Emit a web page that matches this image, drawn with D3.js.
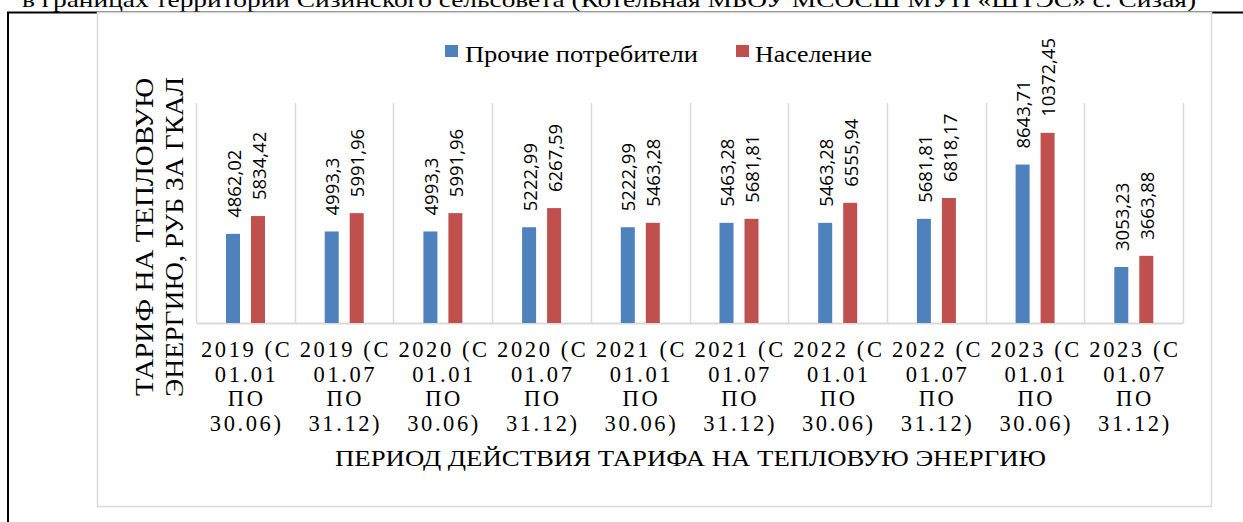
<!DOCTYPE html>
<html><head><meta charset="utf-8">
<script src="https://cdn.jsdelivr.net/npm/d3@7"></script>
<style>
html,body{margin:0;padding:0;background:#fff;}
svg{display:block;}
</style></head>
<body>
<svg id="c" width="1243" height="522"></svg>
<script>
const categories = [
  ["2019 (С","01.01","ПО","30.06)"],
  ["2019 (С","01.07","ПО","31.12)"],
  ["2020 (С","01.01","ПО","30.06)"],
  ["2020 (С","01.07","ПО","31.12)"],
  ["2021 (С","01.01","ПО","30.06)"],
  ["2021 (С","01.07","ПО","31.12)"],
  ["2022 (С","01.01","ПО","30.06)"],
  ["2022 (С","01.07","ПО","31.12)"],
  ["2023 (С","01.01","ПО","30.06)"],
  ["2023 (С","01.07","ПО","31.12)"]
];
const seriesNames = ["Прочие потребители", "Население"];
const otherConsumers = [4862.02, 4993.3, 4993.3, 5222.99, 5222.99, 5463.28, 5463.28, 5681.81, 8643.71, 3053.23];
const population = [5834.42, 5991.96, 5991.96, 6267.59, 5463.28, 5681.81, 6555.94, 6818.17, 10372.45, 3663.88];
const colors = ["#4F81BD", "#C0504D"];
const yMax = 12000;
const topText = "в границах территории Сизинского сельсовета (Котельная МБОУ МСОСШ МУП «ШТЭС» с. Сизая)";
const yTitle = ["ТАРИФ НА ТЕПЛОВУЮ", "ЭНЕРГИЮ, РУБ ЗА ГКАЛ"];
const xTitle = "ПЕРИОД ДЕЙСТВИЯ ТАРИФА НА ТЕПЛОВУЮ ЭНЕРГИЮ";

const svg = d3.select("#c");
const serif = "'Liberation Serif','Times New Roman',serif";
const sans = "'Open Sans','DejaVu Sans',sans-serif";

// caption text above (cropped in the original)
svg.append("text").attr("x", 22).attr("y", 7)
  .attr("font-family", serif).attr("font-size", 22).attr("fill", "#000")
  .attr("textLength", 1174).attr("lengthAdjust", "spacingAndGlyphs")
  .text(topText);

// table borders
svg.append("line").attr("x1", 7).attr("x2", 1243).attr("y1", 12.5).attr("y2", 12.5)
  .attr("stroke", "#000").attr("stroke-width", 2);
svg.append("line").attr("x1", 8).attr("x2", 8).attr("y1", 12).attr("y2", 522)
  .attr("stroke", "#000").attr("stroke-width", 2);

// chart box
svg.append("rect").attr("x", 97.5).attr("y", 12.5).attr("width", 1114).attr("height", 494)
  .attr("fill", "#fff").attr("stroke", "#d9d9d9").attr("stroke-width", 1.5);

const plot = {left: 196, right: 1183, top: 103, bottom: 323};
const idx = categories.map((d, i) => i);
const x = d3.scaleBand().domain(idx).range([plot.left, plot.right]).padding(0);
const bw = x.bandwidth();
const xs = d3.scaleBand().domain([0, 1]).range([bw * 0.304, bw * 0.699]).paddingInner(0.44);
const y = d3.scaleLinear().domain([0, yMax]).range([plot.bottom, plot.top]);

// vertical category gridlines
const g = svg.append("g");
g.selectAll("line.grid").data(d3.range(categories.length + 1)).join("line")
  .attr("class", "grid")
  .attr("x1", i => Math.round(plot.left + i * bw) + 0.5)
  .attr("x2", i => Math.round(plot.left + i * bw) + 0.5)
  .attr("y1", plot.top).attr("y2", plot.bottom)
  .attr("stroke", "#d9d9d9").attr("stroke-width", 1.5);

// x axis line
const xAxis = d3.axisBottom(x).tickSize(0).tickFormat("");
svg.append("g").attr("transform", `translate(0,${plot.bottom})`).call(xAxis)
  .call(s => s.select(".domain").attr("stroke", "#d9d9d9").attr("stroke-width", 2));

// bars
const seriesData = [otherConsumers, population];
seriesData.forEach((vals, s) => {
  const gs = svg.append("g");
  gs.selectAll("rect").data(vals).join("rect")
    .attr("x", (d, i) => x(i) + xs(s))
    .attr("width", xs.bandwidth())
    .attr("y", d => y(d))
    .attr("height", d => y(0) - y(d))
    .attr("fill", colors[s]);
  gs.selectAll("text").data(vals).join("text")
    .attr("transform", (d, i) => `translate(${x(i) + xs(s) + xs.bandwidth() / 2 + 1},${y(d) - 16}) rotate(-90)`)
    .attr("dy", "0.36em")
    .attr("font-family", sans).attr("font-size", 18.5).attr("fill", "#000")
    .text(d => String(d).replace(".", ","));
});

// x tick labels
const tl = svg.append("g");
categories.forEach((lines, i) => {
  const t = tl.append("text")
    .attr("font-family", serif).attr("font-size", 22.5).attr("fill", "#000")
    .attr("text-anchor", "middle").attr("letter-spacing", 2.6);
  lines.forEach((ln, j) => {
    t.append("tspan").attr("x", x(i) + bw / 2 + 1.3).attr("y", 357 + j * 24.7).text(ln);
  });
});

// x title
svg.append("text").attr("x", 335).attr("y", 466)
  .attr("font-family", serif).attr("font-size", 23.5).attr("fill", "#000")
  .attr("textLength", 711).attr("lengthAdjust", "spacingAndGlyphs")
  .text(xTitle);

// y title
const yt = svg.append("g");
[[153, 318], [183, 320]].forEach(([bx, len], j) => {
  yt.append("text")
    .attr("transform", `translate(${bx},237) rotate(-90)`)
    .attr("x", -len / 2)
    .attr("font-family", serif).attr("font-size", 26).attr("fill", "#000")
    .attr("textLength", len).attr("lengthAdjust", "spacingAndGlyphs")
    .text(yTitle[j]);
});

// legend
const leg = svg.append("g");
const legItems = [{x: 445, tx: 465, len: 233}, {x: 736, tx: 755, len: 117}];
legItems.forEach((it, s) => {
  leg.append("rect").attr("x", it.x).attr("y", 45).attr("width", 13).attr("height", 12).attr("fill", colors[s]);
  leg.append("text").attr("x", it.tx).attr("y", 62)
    .attr("font-family", serif).attr("font-size", 23).attr("fill", "#000")
    .attr("textLength", it.len).attr("lengthAdjust", "spacingAndGlyphs")
    .text(seriesNames[s]);
});
</script>
</body></html>
